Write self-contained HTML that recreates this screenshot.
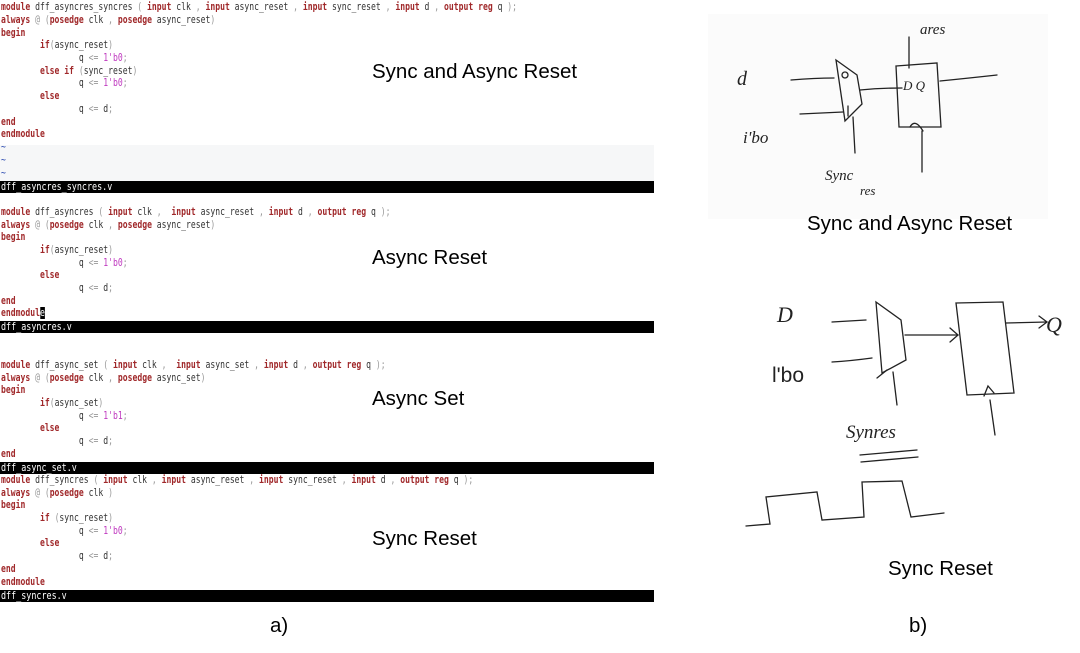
<!DOCTYPE html>
<html><head><meta charset="utf-8"><style>
body{margin:0;width:1080px;height:653px;background:#fff;position:relative;overflow:hidden;font-family:"Liberation Sans",sans-serif}
.l{position:absolute;left:1px;font-family:"DejaVu Sans Mono","Liberation Mono",monospace;font-size:10.5px;color:#333;white-space:pre;line-height:11px;transform:scaleX(0.77);transform-origin:0 0}
.k{color:#a0282a;font-weight:bold}
.p{color:#999}
.n{color:#c03ac0}
.t{color:#2a4ab0}
.bar{position:absolute;left:0;width:654px;height:12px;background:#000;color:#fff;font-family:"DejaVu Sans Mono",monospace;font-size:10.5px;line-height:12px;padding-left:1px;box-sizing:border-box}
.bar span{display:inline-block;transform:scaleX(0.8);transform-origin:0 0}
.lab{position:absolute;font-size:20.5px;color:#000}
</style></head><body>
<div style="position:absolute;left:0;top:145px;width:654px;height:36px;background:#f6f7f8"></div>
<div class="l" style="top:2px"><span class="k">module</span> dff_asyncres_syncres <span class="p">(</span> <span class="k">input</span> clk <span class="p">,</span> <span class="k">input</span> async_reset <span class="p">,</span> <span class="k">input</span> sync_reset <span class="p">,</span> <span class="k">input</span> d <span class="p">,</span> <span class="k">output reg</span> q <span class="p">);</span></div>
<div class="l" style="top:15px"><span class="k">always</span> <span class="p">@ (</span><span class="k">posedge</span> clk <span class="p">,</span> <span class="k">posedge</span> async_reset<span class="p">)</span></div>
<div class="l" style="top:28px"><span class="k">begin</span></div>
<div class="l" style="top:40px">        <span class="k">if</span><span class="p">(</span>async_reset<span class="p">)</span></div>
<div class="l" style="top:53px">                q <span class="p">&lt;=</span> <span class="n">1'b0</span><span class="p">;</span></div>
<div class="l" style="top:66px">        <span class="k">else if</span> <span class="p">(</span>sync_reset<span class="p">)</span></div>
<div class="l" style="top:78px">                q <span class="p">&lt;=</span> <span class="n">1'b0</span><span class="p">;</span></div>
<div class="l" style="top:91px">        <span class="k">else</span></div>
<div class="l" style="top:104px">                q <span class="p">&lt;=</span> d<span class="p">;</span></div>
<div class="l" style="top:117px"><span class="k">end</span></div>
<div class="l" style="top:129px"><span class="k">endmodule</span></div>
<div class="l t" style="top:142px">~</div>
<div class="l t" style="top:155px">~</div>
<div class="l t" style="top:168px">~</div>
<div class="bar" style="top:181px"><span>dff_asyncres_syncres.v</span></div>
<div class="lab" style="left:372px;top:60px">Sync and Async Reset</div>

<div class="l" style="top:207px"><span class="k">module</span> dff_asyncres <span class="p">(</span> <span class="k">input</span> clk <span class="p">,</span>  <span class="k">input</span> async_reset <span class="p">,</span> <span class="k">input</span> d <span class="p">,</span> <span class="k">output reg</span> q <span class="p">);</span></div>
<div class="l" style="top:220px"><span class="k">always</span> <span class="p">@ (</span><span class="k">posedge</span> clk <span class="p">,</span> <span class="k">posedge</span> async_reset<span class="p">)</span></div>
<div class="l" style="top:232px"><span class="k">begin</span></div>
<div class="l" style="top:245px">        <span class="k">if</span><span class="p">(</span>async_reset<span class="p">)</span></div>
<div class="l" style="top:258px">                q <span class="p">&lt;=</span> <span class="n">1'b0</span><span class="p">;</span></div>
<div class="l" style="top:270px">        <span class="k">else</span></div>
<div class="l" style="top:283px">                q <span class="p">&lt;=</span> d<span class="p">;</span></div>
<div class="l" style="top:296px"><span class="k">end</span></div>
<div class="l" style="top:308px"><span class="k">endmodul</span><span style="background:#000;color:#fff">e</span></div>
<div class="bar" style="top:321px"><span>dff_asyncres.v</span></div>
<div class="lab" style="left:372px;top:246px">Async Reset</div>

<div class="l" style="top:360px"><span class="k">module</span> dff_async_set <span class="p">(</span> <span class="k">input</span> clk <span class="p">,</span>  <span class="k">input</span> async_set <span class="p">,</span> <span class="k">input</span> d <span class="p">,</span> <span class="k">output reg</span> q <span class="p">);</span></div>
<div class="l" style="top:373px"><span class="k">always</span> <span class="p">@ (</span><span class="k">posedge</span> clk <span class="p">,</span> <span class="k">posedge</span> async_set<span class="p">)</span></div>
<div class="l" style="top:385px"><span class="k">begin</span></div>
<div class="l" style="top:398px">        <span class="k">if</span><span class="p">(</span>async_set<span class="p">)</span></div>
<div class="l" style="top:411px">                q <span class="p">&lt;=</span> <span class="n">1'b1</span><span class="p">;</span></div>
<div class="l" style="top:423px">        <span class="k">else</span></div>
<div class="l" style="top:436px">                q <span class="p">&lt;=</span> d<span class="p">;</span></div>
<div class="l" style="top:449px"><span class="k">end</span></div>
<div class="bar" style="top:462px"><span>dff_async_set.v</span></div>
<div class="lab" style="left:372px;top:387px">Async Set</div>

<div class="l" style="top:475px"><span class="k">module</span> dff_syncres <span class="p">(</span> <span class="k">input</span> clk <span class="p">,</span> <span class="k">input</span> async_reset <span class="p">,</span> <span class="k">input</span> sync_reset <span class="p">,</span> <span class="k">input</span> d <span class="p">,</span> <span class="k">output reg</span> q <span class="p">);</span></div>
<div class="l" style="top:488px"><span class="k">always</span> <span class="p">@ (</span><span class="k">posedge</span> clk <span class="p">)</span></div>
<div class="l" style="top:500px"><span class="k">begin</span></div>
<div class="l" style="top:513px">        <span class="k">if</span> <span class="p">(</span>sync_reset<span class="p">)</span></div>
<div class="l" style="top:526px">                q <span class="p">&lt;=</span> <span class="n">1'b0</span><span class="p">;</span></div>
<div class="l" style="top:538px">        <span class="k">else</span></div>
<div class="l" style="top:551px">                q <span class="p">&lt;=</span> d<span class="p">;</span></div>
<div class="l" style="top:564px"><span class="k">end</span></div>
<div class="l" style="top:577px"><span class="k">endmodule</span></div>
<div class="bar" style="top:590px"><span>dff_syncres.v</span></div>
<div class="lab" style="left:372px;top:527px">Sync Reset</div>

<div class="lab" style="left:270px;top:614px">a)</div>
<div class="lab" style="left:909px;top:614px">b)</div>

<div style="position:absolute;left:708px;top:14px;width:340px;height:205px;background:#fbfbfb"></div>
<svg style="position:absolute;left:0;top:0" width="1080" height="653" fill="none" stroke="#222" stroke-width="1.3" stroke-linecap="round">
<path d="M791 80 Q815 78 834 78"/><path d="M800 114 Q820 113 843 112"/>
<path d="M836 60 L857 75 L862 104 L845 121 Z"/>
<circle cx="845" cy="75" r="3"/><path d="M848 106 L848 116"/>
<path d="M853 117 L855 153"/>
<path d="M860 90 Q880 88 902 88"/>
<path d="M896 66 L937 63 L941 127 L899 127 Z"/>
<path d="M909 37 L909 68"/><path d="M922 131 L922 172"/><path d="M910 127 Q915 118 923 131"/>
<path d="M940 81 Q970 78 997 75"/>
<text x="903" y="90" font-size="13" font-style="italic" fill="#222" stroke="none" font-family="Liberation Serif">D Q</text>
<text x="737" y="85" font-size="20" font-style="italic" fill="#222" stroke="none" font-family="Liberation Serif">d</text>
<text x="743" y="143" font-size="17" font-style="italic" fill="#222" stroke="none" font-family="Liberation Serif">i'bo</text>
<text x="920" y="34" font-size="15" font-style="italic" fill="#222" stroke="none" font-family="Liberation Serif">ares</text>
<text x="825" y="180" font-size="15" font-style="italic" fill="#222" stroke="none" font-family="Liberation Serif">Sync</text>
<text x="860" y="195" font-size="13" font-style="italic" fill="#222" stroke="none" font-family="Liberation Serif">res</text>
<path d="M832 322 Q850 321 866 320"/><path d="M832 362 Q850 361 872 358"/>
<path d="M876 302 L901 320 L906 360 L882 373 Z"/>
<path d="M877 378 L887 370"/><path d="M893 372 L897 405"/>
<path d="M905 335 L958 335"/><path d="M950 328 L958 335 L950 342"/>
<path d="M956 303 L1003 302 L1014 393 L967 395 Z"/>
<path d="M984 396 L988 386 L994 393"/><path d="M990 400 L995 435"/>
<path d="M1006 323 L1047 322"/><path d="M1039 316 L1047 322 L1039 328"/>
<text x="1046" y="332" font-size="22" fill="#222" stroke="none" font-family="Liberation Serif" font-style="italic">Q</text>
<text x="777" y="322" font-size="22" fill="#222" stroke="none" font-family="Liberation Serif" font-style="italic">D</text>
<text x="772" y="382" font-size="21" fill="#222" stroke="none" font-family="Liberation Sans">l'bo</text>
<text x="846" y="438" font-size="19" fill="#222" stroke="none" font-family="Liberation Serif" font-style="italic">Synres</text>
<path d="M860 455 L917 450"/><path d="M861 462 L918 457"/>
<path d="M746 526 L770 524 L766 497 L817 492 L822 520 L864 517 L862 482 L902 481 L911 517 L944 513"/>
</svg>
<div class="lab" style="left:807px;top:212px">Sync and Async Reset</div>
<div class="lab" style="left:888px;top:557px">Sync Reset</div>
</body></html>
